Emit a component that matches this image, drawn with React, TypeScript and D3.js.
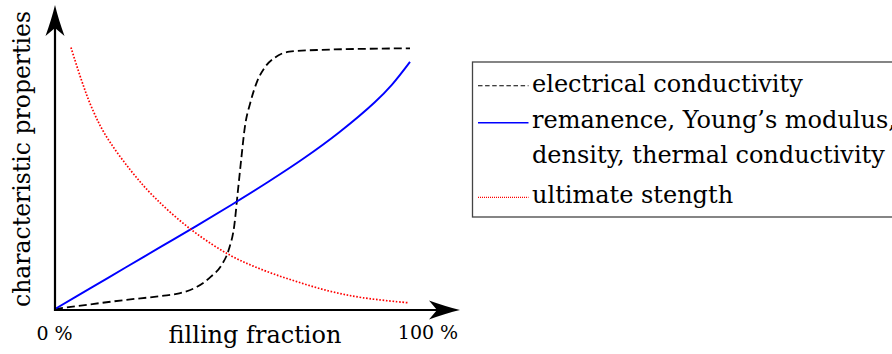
import React from "react";
import * as d3 from "d3";

// Filling fraction (%) against a normalised characteristic property (0–100)
const conductivityFraction = [0, 10, 20, 30, 35, 40, 44, 47, 49, 50.5, 51.5, 52.5, 53.5, 55, 57, 59, 62, 66, 75, 100];
const conductivityValues = [0, 1.8, 3.5, 5.0, 6.0, 8.5, 12.5, 17, 23, 32, 45, 58, 70, 79, 87.5, 92.5, 96.5, 98.7, 99.4, 100];

const remanenceFraction = [0, 10, 20, 30, 40, 50, 60, 70, 80, 90, 95, 100];
const remanenceValues = [0, 8.0, 16.0, 24.0, 32.0, 40.2, 48.7, 57.7, 67.7, 79.2, 86.2, 94.8];

const strengthFraction = [4.5, 7.5, 10.3, 14.1, 21.3, 28.2, 38.5, 49.5, 58.7, 68.1, 77.5, 86.8, 99.4];
const strengthValues = [100.3, 87.6, 77.4, 67, 53.2, 42.6, 30.3, 20.5, 14.9, 10.5, 6.8, 4.3, 2.4];

const tickLabels = ["0 %", "100 %"];
const xAxisTitle = "filling fraction";
const yAxisTitle = "characteristic properties";

const legendLabels = [
  ["electrical conductivity"],
  ["remanence, Young\u2019s modulus,", "density, thermal conductivity"],
  ["ultimate stength"],
];

const FONT = "'DejaVu Serif', serif";

type Pt = [number, number];
const zip = (xs: number[], ys: number[]): Pt[] => xs.map((x, i) => [x, ys[i]]);

export default function App() {
  const width = 892;
  const height = 354;

  const x = d3.scaleLinear().domain([0, 100]).range([55, 410]);
  const y = d3.scaleLinear().domain([0, 100]).range([309, 48.3]);

  const lineOf = (curve: d3.CurveFactory) =>
    d3
      .line<Pt>()
      .x((d) => x(d[0]))
      .y((d) => y(d[1]))
      .curve(curve);

  const ox = x(0);
  const oy = 310;
  const xTip = 460;
  const yTip = 5;

  // Stealth-style arrow head pointing in +x, tip at the origin
  const head = (len: number, half: number, notch: number) =>
    `M0,0 Q${-len * 0.45},${-half * 0.35} ${-len},${-half} L${-len + notch},0 L${-len},${half} Q${-len * 0.45},${half * 0.35} 0,0 Z`;

  const arrow = head(31, 9.5, 8);

  const series = [
    { pts: zip(conductivityFraction, conductivityValues), curve: d3.curveMonotoneX, color: "#000", width: 1.8, dash: "8 4", legendWidth: 1.1, legendDash: "4.5 2.6" },
    { pts: zip(remanenceFraction, remanenceValues), curve: d3.curveCatmullRom, color: "#0000ff", width: 1.9, dash: undefined, legendWidth: 1.4, legendDash: undefined },
    { pts: zip(strengthFraction, strengthValues), curve: d3.curveCatmullRom, color: "#ff0000", width: 1.7, dash: "1.6 1.7", legendWidth: 1.2, legendDash: "1 1" },
  ];

  const legendLineY = [85.7, 122.7, 197.3];
  const legendTextY = [[91.7], [128.3, 163.3], [203.3]];

  return (
    <svg
      width={width}
      height={height}
      viewBox={`0 0 ${width} ${height}`}
      style={{ position: "absolute", left: 0, top: 0, background: "#fff" }}
    >
      <rect x={0} y={0} width={width} height={height} fill="#fff" />

      {/* curves */}
      {series.map((s, i) => (
        <path
          key={i}
          d={lineOf(s.curve)(s.pts) ?? ""}
          fill="none"
          stroke={s.color}
          strokeWidth={s.width}
          strokeDasharray={s.dash}
        />
      ))}

      {/* axes */}
      <line x1={ox} y1={oy} x2={xTip - 20} y2={oy} stroke="#000" strokeWidth={2.2} />
      <line x1={ox} y1={oy + 1} x2={ox} y2={yTip + 20} stroke="#000" strokeWidth={2.2} />
      <path d={arrow} transform={`translate(${xTip},${oy})`} fill="#000" />
      <path d={arrow} transform={`translate(${ox},${yTip}) rotate(-90)`} fill="#000" />

      {/* tick labels */}
      <text x={54.5} y={340} fontFamily={FONT} fontSize={19} textAnchor="middle" fill="#000">
        {tickLabels[0]}
      </text>
      <text x={428} y={339} fontFamily={FONT} fontSize={19} textAnchor="middle" fill="#000">
        {tickLabels[1]}
      </text>

      {/* axis titles */}
      <text x={255} y={343} fontFamily={FONT} fontSize={24} textAnchor="middle" fill="#000">
        {xAxisTitle}
      </text>
      <text
        transform={`translate(30,159) rotate(-90)`}
        fontFamily={FONT}
        fontSize={23.5}
        textAnchor="middle"
        fill="#000"
      >
        {yAxisTitle}
      </text>

      {/* legend */}
      <rect x={472.5} y={62} width={440} height={155} fill="#fff" stroke="#444" strokeWidth={1.3} />
      {series.map((s, i) => (
        <g key={i}>
          <line
            x1={478}
            x2={528.5}
            y1={legendLineY[i]}
            y2={legendLineY[i]}
            stroke={s.color}
            strokeWidth={s.legendWidth}
            strokeDasharray={s.legendDash}
          />
          {legendLabels[i].map((t, j) => (
            <text key={j} x={532} y={legendTextY[i][j]} fontFamily={FONT} fontSize={24} fill="#000">
              {t}
            </text>
          ))}
        </g>
      ))}
    </svg>
  );
}
